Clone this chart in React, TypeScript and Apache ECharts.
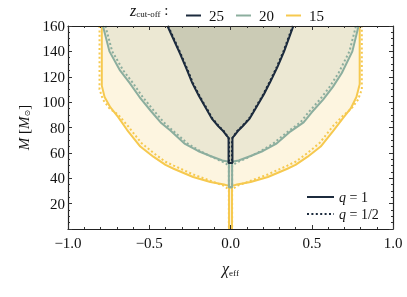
import React, { useEffect, useRef } from 'react';
import * as echarts from 'echarts';

// Axis ticks
const xTickValues = [-1, -0.5, 0, 0.5, 1];
const yTickValues = [20, 40, 60, 80, 100, 120, 140, 160];
const cutoffLabels = ['25', '20', '15'];
const massRatioLabels = ['q = 1', 'q = 1/2'];

// z_cut-off = 15 boundary, q = 1 (chi_eff, M)
const z15q1: [number, number][] = [
  [-0.792, 160], [-0.792, 113], [-0.775, 104], [-0.74, 96], [-0.69, 88], [-0.636, 78],
  [-0.555, 65], [-0.475, 57], [-0.4, 50.5], [-0.35, 47.5], [-0.23, 41], [-0.124, 37],
  [-0.04, 35], [-0.009, 34], [-0.009, 0], [0.009, 0], [0.009, 34], [0.04, 35],
  [0.124, 37], [0.23, 41], [0.35, 47.5], [0.4, 50.5], [0.475, 57], [0.555, 65],
  [0.636, 78], [0.69, 87], [0.74, 95], [0.775, 104], [0.795, 114], [0.795, 160],
];
// z_cut-off = 15 boundary, q = 1/2
const z15q05: [number, number][] = [
  [-0.806, 160], [-0.806, 110], [-0.785, 102], [-0.745, 95], [-0.69, 90], [-0.63, 81],
  [-0.55, 68], [-0.47, 59.5], [-0.4, 53], [-0.35, 50], [-0.23, 43], [-0.124, 38],
  [-0.04, 34], [-0.01, 31], [-0.01, 0], [0.01, 0], [0.01, 31], [0.04, 34],
  [0.124, 38], [0.23, 43], [0.35, 50], [0.4, 53], [0.47, 59.5], [0.55, 68],
  [0.63, 81], [0.69, 89], [0.745, 95], [0.785, 102], [0.808, 110], [0.808, 160],
];
// z_cut-off = 20 boundary, q = 1
const z20q1: [number, number][] = [
  [-0.785, 160], [-0.745, 140], [-0.68, 125], [-0.62, 115], [-0.56, 104], [-0.49, 93],
  [-0.43, 84], [-0.37, 77.6], [-0.28, 67], [-0.2, 61.5], [-0.124, 57.5], [-0.05, 54],
  [-0.01, 53], [-0.01, 33], [0.01, 33], [0.01, 53], [0.05, 54], [0.124, 57.5],
  [0.2, 61.5], [0.28, 67], [0.37, 77], [0.45, 84], [0.5, 92], [0.57, 102],
  [0.63, 112], [0.685, 123], [0.75, 140], [0.788, 160],
];
// z_cut-off = 20 boundary, q = 1/2
const z20q05: [number, number][] = [
  [-0.77, 160], [-0.728, 140], [-0.66, 125], [-0.6, 115], [-0.54, 104], [-0.47, 93],
  [-0.41, 84], [-0.35, 77], [-0.26, 67], [-0.18, 61], [-0.11, 56.5], [-0.04, 52.5],
  [-0.01, 50], [-0.01, 33], [0.01, 33], [0.01, 50], [0.04, 52.5], [0.11, 56.5],
  [0.18, 61], [0.26, 67], [0.35, 76.5], [0.43, 84], [0.48, 92], [0.55, 102],
  [0.61, 112], [0.665, 123], [0.732, 140], [0.772, 160],
];
// z_cut-off = 25 boundary, q = 1
const z25q1: [number, number][] = [
  [-0.388, 160], [-0.31, 138], [-0.27, 126], [-0.235, 115], [-0.195, 105], [-0.143, 93.4],
  [-0.115, 87], [-0.075, 81], [-0.044, 77], [-0.02, 73], [-0.012, 72], [-0.012, 52],
  [0.012, 52], [0.012, 72], [0.02, 73], [0.044, 77], [0.075, 81], [0.118, 87],
  [0.15, 94], [0.205, 106], [0.245, 116], [0.29, 128], [0.33, 140], [0.387, 160],
];
// z_cut-off = 25 boundary, q = 1/2
const z25q05: [number, number][] = [
  [-0.384, 160], [-0.306, 138], [-0.266, 126], [-0.231, 115], [-0.191, 105], [-0.139, 93.4],
  [-0.111, 87], [-0.071, 81], [-0.04, 77], [-0.016, 72.5], [-0.009, 71], [-0.009, 52],
  [0.009, 52], [0.009, 71], [0.016, 72.5], [0.04, 77], [0.071, 81], [0.114, 87],
  [0.146, 94], [0.201, 106], [0.241, 116], [0.286, 128], [0.326, 140], [0.383, 160],
];

const NAVY = '#1c2b3d';
const SAGE = '#8cae9e';
const GOLD = '#f6c94f';
const FILL15 = '#fdf5e0';
const FILL20 = '#ece8d3';
const FILL25 = '#cbcbb5';
const FONT = 'Liberation Serif';
const DOTS = [2, 2.4];
const CLEAR = 'rgba(0,0,0,0)';

const fmtX = (v: number) => v.toFixed(1).replace('-', '\u2212');

export default function App() {
  const ref = useRef<HTMLDivElement>(null);
  useEffect(() => {
    if (!ref.current) return;
    const chart = echarts.init(ref.current, null, { renderer: 'svg' });
    const fill = (name: string, data: [number, number][], color: string) => ({
      name, type: 'line', data, symbol: 'none', silent: true,
      lineStyle: { width: 0 },
      areaStyle: { color, opacity: 1, origin: 'end' },
    });
    const line = (name: string, data: [number, number][], color: string, dotted: boolean) => ({
      name, type: 'line', data, symbol: 'none', silent: true,
      lineStyle: { color, width: 2, type: dotted ? DOTS : 'solid' },
      itemStyle: { color },
    });
    const axisCommon = {
      axisLine: { show: true, onZero: false, lineStyle: { color: '#222', width: 1.2 } },
      axisTick: { show: true, inside: true, length: 4, lineStyle: { color: '#333', width: 1 } },
      minorTick: { show: true, length: 2, lineStyle: { color: '#333', width: 1 } },
      splitLine: { show: false },
      z: 10,
    };
    const hiddenSymbol = { color: CLEAR, borderColor: CLEAR, borderWidth: 0, opacity: 0 };
    chart.setOption({
      animation: false,
      grid: { left: 68, right: 14, top: 26, bottom: 68 },
      legend: [
        {
          data: cutoffLabels, left: 180, top: 3, itemWidth: 15, itemHeight: 10, itemGap: 11,
          itemStyle: hiddenSymbol,
          textStyle: { fontFamily: FONT, fontSize: 15, color: '#111', padding: [0, 0, 0, 3] },
          selectedMode: false,
        },
        {
          data: massRatioLabels, orient: 'vertical', left: 301, top: 185, itemWidth: 27,
          itemHeight: 10, itemGap: 3, selectedMode: false,
          itemStyle: hiddenSymbol,
          formatter: (n: string) => `{i|q}{n|${n.slice(1)}}`,
          textStyle: {
            fontFamily: FONT, fontSize: 14, color: '#111', lineHeight: 12,
            rich: {
              i: { fontFamily: FONT, fontStyle: 'italic', fontSize: 14, color: '#111' },
              n: { fontFamily: FONT, fontSize: 14, color: '#111' },
            },
          },
        },
      ],
      graphic: [
        {
          type: 'text', left: 130, top: 2,
          style: {
            text: '{z|z}{s|cut-off}{c| :}',
            rich: {
              z: { fontFamily: FONT, fontStyle: 'italic', fontSize: 16, fill: '#111' },
              s: { fontFamily: FONT, fontSize: 9, fill: '#111', padding: [8, 0, 0, 0] },
              c: { fontFamily: FONT, fontSize: 15, fill: '#111' },
            },
          },
        },
      ],
      xAxis: [
        {
          type: 'value', min: -1, max: 1, interval: 0.5, position: 'bottom',
          ...axisCommon,
          minorTick: { ...axisCommon.minorTick, splitNumber: 5 },
          axisLabel: {
            fontFamily: FONT, fontSize: 15, color: '#111', margin: 6,
            formatter: (v: number) => (xTickValues.includes(v) ? fmtX(v) : ''),
          },
          name: '{c|\u03c7}{s|eff}', nameLocation: 'middle', nameGap: 31,
          nameTextStyle: {
            rich: {
              c: { fontFamily: FONT, fontStyle: 'italic', fontSize: 16, color: '#111' },
              s: { fontFamily: FONT, fontSize: 9, color: '#111', padding: [8, 0, 0, 0] },
            },
          },
        },
        {
          type: 'value', min: -1, max: 1, interval: 0.5, position: 'top',
          ...axisCommon,
          minorTick: { ...axisCommon.minorTick, splitNumber: 5 },
          axisLabel: { show: false },
        },
      ],
      yAxis: [
        {
          type: 'value', min: 0, max: 160, interval: 20, position: 'left',
          ...axisCommon,
          minorTick: { ...axisCommon.minorTick, splitNumber: 4 },
          axisLabel: {
            fontFamily: FONT, fontSize: 15, color: '#111', margin: 3,
            formatter: (v: number) => (yTickValues.includes(v) ? String(v) : ''),
          },
          name: '{i|M} [{i|M}{s|\u2299}]', nameLocation: 'middle', nameGap: 28,
          nameTextStyle: {
            fontFamily: FONT, fontSize: 15, color: '#111',
            rich: {
              i: { fontFamily: FONT, fontStyle: 'italic', fontSize: 15, color: '#111' },
              s: { fontFamily: 'DejaVu Sans', fontSize: 8, color: '#111', padding: [8, 0, 0, 0] },
            },
          },
        },
        {
          type: 'value', min: 0, max: 160, interval: 20, position: 'right',
          ...axisCommon,
          minorTick: { ...axisCommon.minorTick, splitNumber: 4 },
          axisLabel: { show: false },
        },
      ],
      series: [
        fill('fill15', z15q1, FILL15),
        fill('fill20', z20q1, FILL20),
        fill('fill25', z25q1, FILL25),
        line('15 half', z15q05, GOLD, true),
        line('15', z15q1, GOLD, false),
        line('20 half', z20q05, SAGE, true),
        line('20', z20q1, SAGE, false),
        line('q = 1/2', z25q05, NAVY, true),
        line('25', z25q1, NAVY, false),
        line('q = 1', [], NAVY, false),
      ],
    });
    return () => chart.dispose();
  }, []);
  return <div ref={ref} style={{ position: 'fixed', left: 0, top: 0, width: 407, height: 297 }} />;
}
